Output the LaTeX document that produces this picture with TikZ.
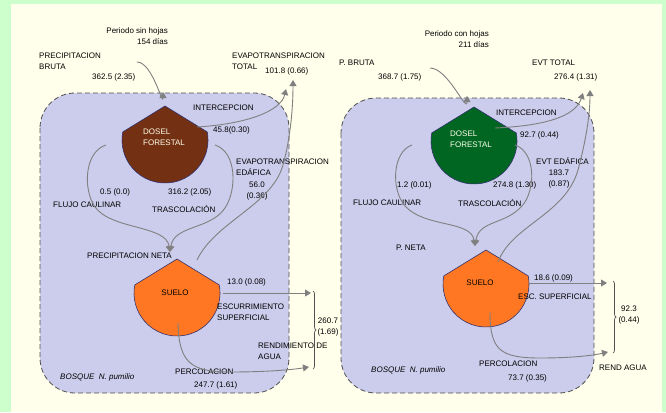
\documentclass[tikz,border=0pt]{standalone}
\usepackage{fontspec}
\setmainfont{Liberation Sans}
\usetikzlibrary{arrows.meta, math, decorations.pathreplacing}
\definecolor{myverde}{RGB}{204,255,204}
\definecolor{mycrema}{RGB}{255,255,236}
\definecolor{mylila}{RGB}{204,204,236}
\definecolor{myborde}{RGB}{80,80,80}
\definecolor{mygris}{RGB}{128,128,128}
\definecolor{mycafe}{RGB}{115,48,18}
\definecolor{myverdeosc}{RGB}{0,102,34}
\definecolor{mynaranja}{RGB}{255,119,34}
\definecolor{mycontorno}{RGB}{50,50,110}

\begin{document}
\begin{tikzpicture}[x=1pt,y=-1pt,
  txt/.style={inner sep=0pt, font=\fontsize{8}{10.5}\selectfont},
  flujo/.style={draw=mygris, line width=0.9pt, -{Triangle[length=6pt,width=7pt]}},
  llave/.style={draw=myborde, line width=0.7pt, decoration={brace, amplitude=3pt}, decorate},
  panel/.style={fill=mylila, draw=myborde, line width=0.8pt, dash pattern=on 5pt off 3pt, rounded corners=35pt},
  gota/.pic={\path[pic actions] (0,-34) -- (-\a:\r) arc[start angle=-\a, end angle=180+\a, radius=\r] -- cycle;}
]
\tikzmath{
\r=43; \a=10.8;
}

\fill[myverde] (0,0) rectangle (666,412);
\fill[mycrema] (11,4) rectangle (662,412);
\useasboundingbox (0,0) rectangle (666,412);

\draw[panel] (40,93) rectangle (289,393);
\draw[panel] (341,98) rectangle (594,393);

\pic[fill=mycafe, draw=mycontorno, line width=0.6pt] at (165,140) {gota};
\pic[fill=myverdeosc, draw=mycontorno, line width=0.6pt] at (474,141) {gota};
\pic[fill=mynaranja, draw=mycontorno, line width=0.6pt] at (177,293) {gota};
\pic[fill=mynaranja, draw=mycontorno, line width=0.6pt] at (486,284) {gota};

\node[txt, align=right, anchor=north east] (perA) at (168,28) {Periodo sin hojas\\154 días};
\node[txt, align=left, anchor=north west] (pbA) at (39,53) {PRECIPITACION\\BRUTA};
\node[txt, anchor=west] (pbvA) at (92,77) {362.5 (2.35)};
\node[txt, align=left, anchor=north west] (etA) at (232,53) {EVAPOTRANSPIRACION\\TOTAL};
\node[txt, anchor=west] (etvA) at (265,71) {101.8 (0.66)};
\node[txt, anchor=west] (inA) at (193,108) {INTERCEPCION};
\node[txt, anchor=west] (invA) at (213,130) {45.8(0.30)};
\node[txt, align=left, anchor=north west, text=mycrema] (dosA) at (143,129) {DOSEL\\FORESTAL};
\node[txt, align=left, anchor=north west] (edA) at (236,159) {EVAPOTRANSPIRACION\\EDÁFICA};
\node[txt, align=center, anchor=north] (edvA) at (257,182) {56.0\\(0.36)};
\node[txt, anchor=west] (fcvA) at (100,192) {0.5 (0.0)};
\node[txt, anchor=west] (trvA) at (168,192) {316.2 (2.05)};
\node[txt, anchor=west] (fcA) at (53,205) {FLUJO CAULINAR};
\node[txt, anchor=west] (trA) at (152,209) {TRASCOLACIÓN};
\node[txt, anchor=east] (pnA) at (172,256) {PRECIPITACION NETA};
\node[txt] (suA) at (175,293) {SUELO};
\node[txt, anchor=west] (esvA) at (227,282) {13.0 (0.08)};
\node[txt, align=left, anchor=north west] (esA) at (217,304) {ESCURRIMIENTO\\SUPERFICIAL};
\node[txt, align=center, anchor=north] (rdvA) at (328,318) {260.7\\(1.69)};
\node[txt, align=left, anchor=north west] (rdA) at (258,343) {RENDIMIENTO DE\\AGUA};
\node[txt, anchor=west] (peA) at (175,372) {PERCOLACION};
\node[txt, anchor=west] (pevA) at (194,385) {247.7 (1.61)};
\node[txt, anchor=west, font=\fontsize{8}{10.5}\selectfont\itshape] (boA) at (60,377) {BOSQUE\ \ N. pumilio};

\node[txt, align=right, anchor=north east] (perB) at (489,31) {Periodo con hojas\\211 días};
\node[txt, anchor=west] (pbB) at (339,63) {P. BRUTA};
\node[txt, anchor=west] (pbvB) at (378,77) {368.7 (1.75)};
\node[txt, anchor=west] (etB) at (532,63) {EVT TOTAL};
\node[txt, anchor=west] (etvB) at (554,77) {276.4 (1.31)};
\node[txt, anchor=west] (inB) at (496,113) {INTERCEPCION};
\node[txt, anchor=west] (invB) at (520,135) {92.7 (0.44)};
\node[txt, align=left, anchor=north west, text=mycrema] (dosB) at (450,131) {DOSEL\\FORESTAL};
\node[txt, anchor=west] (edB) at (536,161) {EVT EDÁFICA};
\node[txt, align=center, anchor=north] (edvB) at (559,170) {183.7\\(0.87)};
\node[txt, anchor=west] (fcvB) at (397,185) {1.2 (0.01)};
\node[txt, anchor=west] (trvB) at (493,185) {274.8 (1.30)};
\node[txt, anchor=west] (fcB) at (353,203) {FLUJO CAULINAR};
\node[txt, anchor=west] (trB) at (458,203) {TRASCOLACIÓN};
\node[txt, anchor=west] (pnB) at (396,248) {P. NETA};
\node[txt] (suB) at (480,283) {SUELO};
\node[txt, anchor=west] (esvB) at (534,278) {18.6 (0.09)};
\node[txt, anchor=west] (esB) at (518,297) {ESC. SUPERFICIAL};
\node[txt, align=center, anchor=north] (rdvB) at (629,306) {92.3\\(0.44)};
\node[txt, anchor=west] (peB) at (479,364) {PERCOLACION};
\node[txt, anchor=west] (pevB) at (508,378) {73.7 (0.35)};
\node[txt, anchor=west, font=\fontsize{8}{10.5}\selectfont\itshape] (boB) at (371,370) {BOSQUE\ \ N. pumilio};
\node[txt, anchor=west] (rdB) at (599,368) {REND AGUA};

\coordinate (pbA1) at (137,62);
\coordinate (pbA2) at (163,92);
\coordinate (inA1) at (197,127);
\coordinate (inA2) at (286,89);
\coordinate (edA1) at (197,260);
\coordinate (edA2) at (293,80);
\coordinate (fcA1) at (106,145);
\coordinate (trA1) at (215,145);
\coordinate (pnA1) at (170,252);
\coordinate (esA1) at (223,293);
\coordinate (esA2) at (311,293);
\coordinate (peA1) at (178,323);
\coordinate (peA2) at (309,367);
\coordinate (llA1) at (313,291);
\coordinate (llA2) at (313,369);

\draw[flujo] (pbA1) to[out=0,in=270] (pbA2);
\draw[flujo] (inA1) .. controls +(50,-3) and +(-5,22) .. (inA2);
\draw[flujo] (edA1) .. controls (215,222) and (272,205) .. (283,165) .. controls (290,140) and (293,110) .. (edA2);
\draw[flujo] (fcA1) .. controls (84,152) and (83,190) .. (95,207) .. controls (112,230) and (166,225) .. (pnA1);
\draw[flujo] (trA1) .. controls (237,152) and (237,190) .. (225,208) .. controls (210,230) and (174,225) .. (pnA1);
\draw[flujo] (esA1) -- (esA2);
\draw[flujo] (peA1) .. controls (179,362) and (190,372) .. (230,372) .. controls (265,372) and (290,370) .. (peA2);
\draw[llave] (llA1) -- (llA2);

\coordinate (pbB1) at (430,68);
\coordinate (pbB2) at (467,96);
\coordinate (inB1) at (495,128);
\coordinate (inB2) at (583,93);
\coordinate (edB1) at (498,262);
\coordinate (edB2) at (590,90);
\coordinate (fcB1) at (412,145);
\coordinate (trB1) at (515,145);
\coordinate (pnB1) at (475,246);
\coordinate (esB1) at (528,283);
\coordinate (esB2) at (607,283);
\coordinate (peB1) at (490,312);
\coordinate (peB2) at (608,352);
\coordinate (llB1) at (613,281);
\coordinate (llB2) at (613,353);

\draw[flujo] (pbB1) to[out=0,in=270] (pbB2);
\draw[flujo] (inB1) .. controls +(45,-2) and +(-8,25) .. (inB2);
\draw[flujo] (edB1) .. controls (512,225) and (565,215) .. (578,170) .. controls (586,140) and (590,115) .. (edB2);
\draw[flujo] (fcB1) .. controls (392,152) and (391,190) .. (405,206) .. controls (425,228) and (471,220) .. (pnB1);
\draw[flujo] (trB1) .. controls (536,152) and (536,190) .. (522,206) .. controls (505,225) and (479,220) .. (pnB1);
\draw[flujo] (esB1) -- (esB2);
\draw[flujo] (peB1) .. controls (490,350) and (500,358) .. (540,358) .. controls (575,358) and (595,355) .. (peB2);
\draw[llave] (llB1) -- (llB2);

\end{tikzpicture}
\end{document}
